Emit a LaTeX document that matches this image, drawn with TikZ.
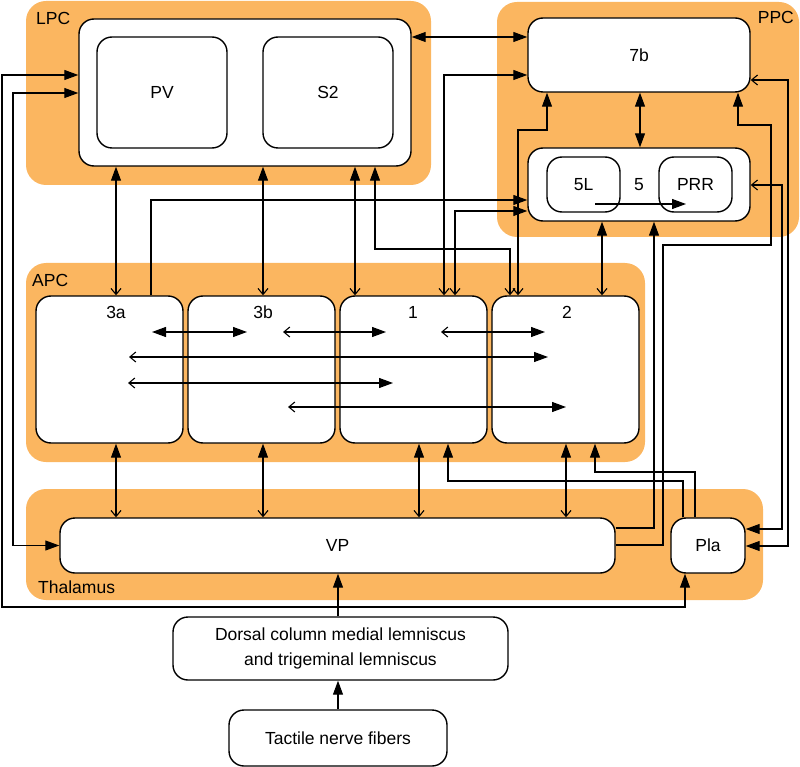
\documentclass[tikz,border=0pt]{standalone}
\usepackage{fontspec}
\setmainfont{Liberation Sans}
\usetikzlibrary{arrows.meta}
\definecolor{areaOrange}{RGB}{251,182,96}
\tikzset{bigTip/.tip={Triangle[length=14pt,width=10pt]}}
\tikzset{thinTip/.tip={Straight Barb[length=6pt,width=10pt]}}

\begin{document}
\begin{tikzpicture}
[x=1pt,y=-1pt,
  areaDecorate/.style={fill=areaOrange,rounded corners=20pt},
  nameDecorate/.style={inner sep=0pt},
  boxDecorate/.style={shape=rectangle,draw,fill=white,line width=1.4pt,
    rounded corners=15pt,inner sep=0pt,align=center},
  lineDecorate/.style={line width=1.1pt}]
\fontsize{17.5}{25}\selectfont
\useasboundingbox (0,0) rectangle (800,767);
%% coloured areas
\fill[areaDecorate] (26,1) rectangle (431,185);
\fill[areaDecorate] (497,2) rectangle (799,237);
\fill[areaDecorate] (26,263) rectangle (645,462);
\fill[areaDecorate] (26,489) rectangle (763,600);
\node (lpcname) at (36,18) [nameDecorate,anchor=west] {LPC};
\node (ppcname) at (794,17) [nameDecorate,anchor=east] {PPC};
\node (apcname) at (32,280) [nameDecorate,anchor=west] {APC};
\node (thalname) at (38,587) [nameDecorate,anchor=west] {Thalamus};
%% boxes
\foreach \nodename/\x/\y/\w/\h/\txt in {
  lpc/245/92.5/332/147/{},
  pv/162/92.5/130/111/PV,
  s2/328/92.5/130/111/S2,
  b7/639/55/222/74/7b,
  b5/639/184.5/222/73/5,
  l5/583.5/184.5/73/55/5L,
  prr/695.5/184.5/73/55/PRR,
  a3/109.5/369.5/147/147/{},
  b3/261.5/369.5/147/147/{},
  one/413.5/369.5/147/147/{},
  two/565.5/369.5/147/147/{},
  vp/337.5/545.5/555/55/VP,
  pla/708/545.5/74/55/Pla,
  dorsal/340.5/648.5/335/63/{Dorsal column medial lemniscus\\and trigeminal lemniscus},
  tactile/338/738/218/56/{Tactile nerve fibers}}
{
  \node (\nodename) at (\x,\y) [boxDecorate,minimum width=\w pt,minimum height=\h pt] {\txt};
}
\node (a3name) at (116,312) {3a};
\node (b3name) at (263,312) {3b};
\node (onename) at (413,312) {1};
\node (twoname) at (567,312) {2};
%% free ends of the arrows inside the boxes
\foreach \nodename/\x/\y in {
  h1s/152/332, h1e/247/332, h2s/283/332, h2e/386/332, h3s/441/332, h3e/545/332,
  h4s/129/357, h4e/548/357, h5s/128/383, h5e/393/383, h6s/288/407, h6e/566/407,
  p5s/595/204, p5e/686/204}
{
  \coordinate (\nodename) at (\x,\y);
}
\draw[lineDecorate,bigTip-bigTip] (h1s) -- (h1e);
\path \foreach \startnode/\endnode in {h2s/h2e, h3s/h3e, h4s/h4e, h5s/h5e, h6s/h6e}
{
  (\startnode) edge[lineDecorate,thinTip-bigTip] (\endnode)
};
\draw[lineDecorate,-bigTip] (p5s) -- (p5e);
%% vertical links
\path \foreach \x/\startnode/\endnode in {
  116/lpc.south/a3.north, 263/lpc.south/b3.north, 355/lpc.south/one.north,
  116/a3.south/vp.north, 263/b3.south/vp.north, 419/one.south/vp.north,
  566/two.south/vp.north, 602/b5.south/two.north}
{
  (\x,0 |- \startnode) edge[lineDecorate,bigTip-thinTip] (\x,0 |- \endnode)
};
\draw[lineDecorate,bigTip-bigTip] (640,0 |- b7.south) -- (640,0 |- b5.north);
\draw[lineDecorate,bigTip-bigTip] (lpc.east |- 0,37) -- (b7.west |- 0,37);
\draw[lineDecorate,-bigTip] (338,0 |- dorsal.north) -- (338,0 |- vp.south);
\draw[lineDecorate,-bigTip] (tactile.north) -- (tactile.north |- dorsal.south);
%% links round the left side
\draw[lineDecorate,bigTip-bigTip] (lpc.west |- 0,75) -- (2,75) -- (2,607)
  -- (685,607) -- (685,0 |- pla.south);
\draw[lineDecorate,bigTip-bigTip] (lpc.west |- 0,93) -- (13,93) |- (vp.west);
%% elbow links
\draw[lineDecorate,bigTip-thinTip] (375,0 |- lpc.south) -- (375,249) -- (510,249)
  -- (510,0 |- two.north);
\draw[lineDecorate,-bigTip] (151,0 |- a3.north) -- (151,200) -- (b5.west |- 0,200);
\draw[lineDecorate,thinTip-bigTip] (455,0 |- one.north) -- (455,211) -- (b5.west |- 0,211);
\draw[lineDecorate,thinTip-bigTip] (444,0 |- one.north) -- (444,75) -- (b7.west |- 0,75);
\draw[lineDecorate,thinTip-bigTip] (518,0 |- two.north) -- (518,130) -- (547,130)
  -- (547,0 |- b7.south);
\draw[lineDecorate,-bigTip] (vp.east |- 0,528) -- (654,528) -- (654,0 |- b5.south);
\draw[lineDecorate,-bigTip] (vp.east |- 0,545) -- (663,545) -- (663,245) -- (771,245)
  -- (771,125) -- (738,125) -- (738,0 |- b7.south);
\draw[lineDecorate,bigTip-thinTip] (pla.east |- 0,529) -- (782,529) -- (782,185)
  -- (b5.east |- 0,185);
\draw[lineDecorate,bigTip-thinTip] (pla.east |- 0,546) -- (788,546) -- (788,80)
  -- (b7.east |- 0,80);
\draw[lineDecorate,-bigTip] (683,0 |- pla.north) -- (683,481) -- (448,481)
  -- (448,0 |- one.south);
\draw[lineDecorate,-bigTip] (695,0 |- pla.north) -- (695,472) -- (595,472)
  -- (595,0 |- two.south);
\end{tikzpicture}
\end{document}
